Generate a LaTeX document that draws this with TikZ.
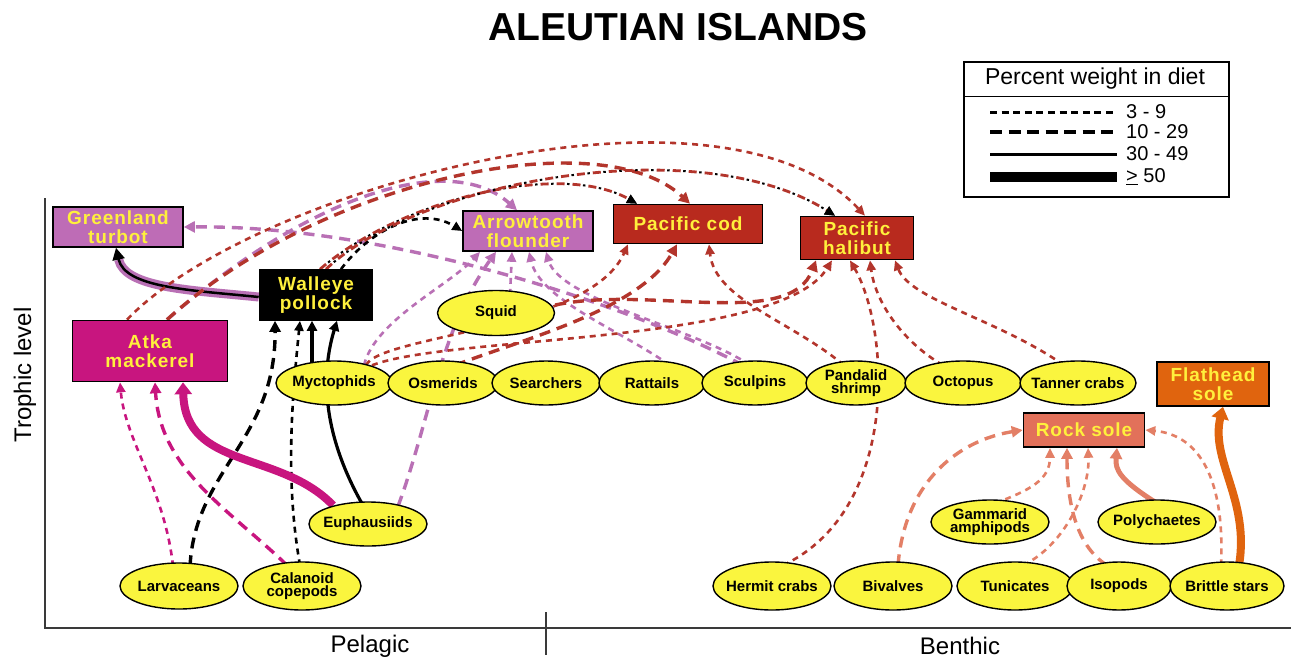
\documentclass[tikz,border=0pt]{standalone}
\usepackage{fontspec}
\setmainfont{Liberation Sans}
\newfontfamily\boxfont[LetterSpace=5]{Liberation Sans}
\usetikzlibrary{arrows.meta,shapes.geometric,backgrounds}
\definecolor{purp}{HTML}{BE6CB6}
\definecolor{purpl}{HTML}{B970B5}
\definecolor{codred}{HTML}{B82A1E}
\definecolor{lred}{HTML}{B3352C}
\definecolor{mag}{HTML}{C8157F}
\definecolor{flat}{HTML}{E0640E}
\definecolor{rock}{HTML}{E2715A}
\definecolor{rockl}{HTML}{E37F66}
\definecolor{ytext}{HTML}{FFF03C}
\definecolor{yfill}{HTML}{FAF53E}
\definecolor{axisgray}{HTML}{3A3A3A}
\begin{document}
\begin{tikzpicture}[x=1pt,y=-1pt,
  pred/.style={draw=black, line width=1.6pt, text=ytext, align=center, inner sep=0pt,
    font=\boxfont\fontsize{19}{19}\selectfont\bfseries},
  prey/.style={ellipse, draw=black, fill=yfill, line width=1.4pt, align=center, inner xsep=-14pt, inner ysep=-4pt,
    minimum height=44pt, font=\fontsize{15}{13.5}\selectfont\bfseries},
  s39/.style={line width=2.6pt, dash pattern=on 6pt off 5pt, -{Triangle[length=10pt,width=9pt]}},
  s1029/.style={line width=3.4pt, dash pattern=on 11pt off 7pt, -{Triangle[length=11pt,width=11pt]}},
  s3049/.style={line width=3.2pt, -{Triangle[length=10pt,width=10pt]}},
  s50/.style={line width=8pt, -{Triangle[length=12pt,width=17pt]}},
  mix/.style={draw=lred, line width=2.8pt, dash pattern=on 8pt off 8pt,
    postaction={draw=black, line width=2pt, dash pattern=on 2.5pt off 13.5pt, dash phase=-10.5pt},
    -{Triangle[length=10pt,width=9pt,color=black]}},
  axisline/.style={draw=axisgray, line width=2pt},
  legtext/.style={anchor=west, font=\fontsize{20}{20}\selectfont, inner sep=0pt}
]
\useasboundingbox (0,0) rectangle (1291,662);

% title
\node[font=\fontsize{39}{42}\selectfont\bfseries] (title) at (678,27) {ALEUTIAN ISLANDS};

% legend
\node[draw=black, line width=1.5pt, minimum width=265pt, minimum height=135pt, inner sep=0pt] (leg) at (1096.5,129.5) {};
\draw[line width=1.5pt] ([yshift=-35]leg.north west) -- ([yshift=-35]leg.north east);
\node[font=\fontsize{23}{23}\selectfont] (legh) at (1095,79) {Percent weight in diet};
\draw[line width=3pt, dash pattern=on 7pt off 4.6pt] (990,112) -- (1117,112);
\draw[line width=4pt, dash pattern=on 12pt off 6.5pt] (990,132) -- (1117,132);
\draw[line width=3pt] (990,154) -- (1117,154);
\draw[line width=10pt] (990,177) -- (1117,177);
\node[legtext] (l1) at (1126,112) {3 - 9};
\node[legtext] (l2) at (1126,132) {10 - 29};
\node[legtext] (l3) at (1126,154) {30 - 49};
\node[legtext] (l4) at (1126,177) {\underline{>} 50};

% axis labels
\node[font=\fontsize{24}{24}\selectfont] (pel) at (370,646) {Pelagic};
\node[font=\fontsize{24}{24}\selectfont] (ben) at (960,646) {Benthic};
\node[font=\fontsize{24}{24}\selectfont, rotate=90] (tl) at (25,375) {Trophic level};

% predators
\node[pred, fill=purp, minimum width=130pt, minimum height=40pt] (gt) at (118,227) {Greenland\\turbot};
\node[pred, fill=purp, minimum width=130pt, minimum height=40pt] (af) at (528,231) {Arrowtooth\\flounder};
\node[pred, fill=codred, minimum width=149pt, minimum height=39pt] (cod) at (688,224) {Pacific cod};
\node[pred, fill=codred, minimum width=113pt, minimum height=43pt] (hal) at (857,238) {Pacific\\halibut};
\node[pred, fill=black, minimum width=113pt, minimum height=50pt] (wp) at (316,295) {Walleye\\pollock};
\node[pred, fill=mag, minimum width=155pt, minimum height=61pt] (am) at (150,351) {Atka\\mackerel};
\node[pred, fill=flat, minimum width=112pt, minimum height=44pt] (fs) at (1213,384) {Flathead\\sole};
\node[pred, fill=rock, minimum width=121pt, minimum height=34pt] (rs) at (1084,430) {Rock sole};

% prey
\node[prey, minimum width=117pt, minimum height=45pt] (sq) at (496,313) {Squid};
\node[prey, minimum width=116pt] (my) at (334,383) {Myctophids};
\node[prey, minimum width=110pt] (os) at (443,383) {Osmerids};
\node[prey, minimum width=108pt] (se) at (546,383) {Searchers};
\node[prey, minimum width=106pt] (ra) at (652,383) {Rattails};
\node[prey, minimum width=106pt] (sc) at (755,383) {Sculpins};
\node[prey, minimum width=100pt] (pa) at (856,383) {Pandalid\\shrimp};
\node[prey, minimum width=116pt] (oc) at (963,383) {Octopus};
\node[prey, minimum width=116pt] (tc) at (1078,383) {Tanner crabs};
\node[prey, minimum width=118pt] (eu) at (368,524) {Euphausiids};
\node[prey, minimum width=118pt, minimum height=46pt] (lv) at (179,586) {Larvaceans};
\node[prey, minimum width=118pt, minimum height=48pt] (cc) at (302,586) {Calanoid\\copepods};
\node[prey, minimum width=118pt] (ga) at (990,522) {Gammarid\\amphipods};
\node[prey, minimum width=118pt] (po) at (1157,522) {Polychaetes};
\node[prey, minimum width=118pt, minimum height=48pt] (hc) at (772,586) {Hermit crabs};
\node[prey, minimum width=118pt, minimum height=48pt] (bi) at (893,586) {Bivalves};
\node[prey, minimum width=116pt, minimum height=48pt] (tu) at (1015,586) {Tunicates};
\node[prey, minimum width=104pt, minimum height=48pt] (iso) at (1119,586) {Isopods};
\node[prey, minimum width=114pt, minimum height=48pt] (bs) at (1227,586) {Brittle stars};

\begin{scope}[on background layer]
\fill[white] (0,0) rectangle (1291,662);
\draw[axisline] (45,198) -- (45,628) -- (1291,628);
\draw[axisline] (546,612) -- (546,655);

% Walleye pollock prey (black)
\draw[s1029] ([xshift=11,yshift=-4]lv.north) .. controls (195,470) and (276,440) .. ([xshift=-41]wp.south);
\draw[s39] ([xshift=-2,yshift=-4]cc.north) .. controls (285,480) and (292,400) .. ([xshift=-16]wp.south);
\draw[s3049] ([xshift=-22,yshift=-6]my.north) -- ([xshift=-4]wp.south);
\draw[s3049] ([xshift=-5,yshift=-4]eu.north) .. controls (320,430) and (322,370) .. ([xshift=21]wp.south);

% Greenland turbot
\draw[purpl, line width=9pt, shorten >=12pt] ([yshift=-2]wp.west) .. controls (190,290) and (125,288) .. ([xshift=-2]gt.south);
\draw[line width=2.5pt, -{Triangle[length=12pt,width=12pt]}] ([yshift=-2]wp.west) .. controls (190,290) and (125,288) .. ([xshift=-2]gt.south);
\draw[s1029, purpl] ([xshift=-12,yshift=-5]sc.north) .. controls (620,300) and (380,225) .. (gt.east);

% Arrowtooth flounder
\draw[s39, purpl] ([xshift=30,yshift=-5]my.north) .. controls (375,320) and (450,285) .. ([xshift=-48]af.south);
\draw[s1029, purpl] ([xshift=30,yshift=-5]eu.north) .. controls (430,420) and (440,330) .. ([xshift=-32]af.south);
\draw[s39, purpl] ([xshift=14,yshift=-5]sq.north) -- ([xshift=-16]af.south);
\draw[s39, purpl] ([xshift=18,yshift=-5]ra.north) .. controls (620,330) and (540,300) .. ([xshift=1]af.south);
\draw[s39, purpl] ([xshift=-5,yshift=-5]sc.north) .. controls (700,330) and (560,300) .. ([xshift=18]af.south);
\draw[s39] ([xshift=25]wp.north) .. controls (370,230) and (420,205) .. (af.west);
\draw[s1029, purpl] ([xshift=17]am.north) .. controls (310,195) and (450,150) .. ([xshift=-11]af.north);

% Pacific cod
\draw[s1029, lred] ([xshift=17]am.north) .. controls (320,180) and (600,120) .. ([xshift=2]cod.north);
\draw[mix] ([xshift=4]wp.north) .. controls (400,200) and (560,160) .. ([xshift=-51]cod.north);
\draw[s39, lred] ([xshift=32,yshift=-5]my.north) .. controls (380,335) and (590,330) .. ([xshift=-60]cod.south);
\draw[s1029, lred] ([xshift=12,yshift=-5]os.north) .. controls (520,340) and (640,310) .. ([xshift=-11]cod.south);
\draw[s39, lred] ([xshift=-12,yshift=-5]pa.north) .. controls (790,320) and (715,300) .. ([xshift=21]cod.south);

% Pacific halibut
\draw[s39, lred] ([xshift=-23]am.north) .. controls (250,190) and (720,60) .. ([xshift=8]hal.north);
\draw[mix] ([xshift=10]wp.north) .. controls (420,180) and (700,130) .. ([xshift=-22]hal.north);
\draw[s1029, lred] ([yshift=8]sq.east) .. controls (650,285) and (790,330) .. ([xshift=-41]hal.south);
\draw[s39, lred] ([xshift=38,yshift=-5]my.north) .. controls (450,335) and (780,345) .. ([xshift=-25]hal.south);
\draw[s39, lred] ([xshift=11,yshift=-4]hc.north) .. controls (900,510) and (890,330) .. ([xshift=-7]hal.south);
\draw[s39, lred] ([xshift=-20,yshift=-5]oc.north) .. controls (900,340) and (875,300) .. ([xshift=13]hal.south);
\draw[s39, lred] ([xshift=-14,yshift=-5]tc.north) .. controls (1000,320) and (910,300) .. ([xshift=38]hal.south);

% Atka mackerel
\draw[s39, mag] ([xshift=-6,yshift=-4]lv.north) .. controls (165,490) and (125,440) .. ([xshift=-30]am.south);
\draw[s1029, mag] ([xshift=-15,yshift=-4]cc.north) .. controls (230,510) and (160,470) .. ([xshift=5]am.south);
\draw[s50, mag] ([xshift=-35,yshift=-4]eu.north) .. controls (280,450) and (185,470) .. ([xshift=33]am.south);

% Rock sole
\draw[s1029, rockl] ([xshift=5,yshift=-4]bi.north) .. controls (905,480) and (960,440) .. (rs.west);
\draw[s39, rockl] ([xshift=5,yshift=-4]ga.north) .. controls (1030,490) and (1050,480) .. ([xshift=-34]rs.south);
\draw[s1029, rockl] ([xshift=-12,yshift=-4]iso.north) .. controls (1075,545) and (1067,500) .. ([xshift=-17]rs.south);
\draw[s39, rockl] ([xshift=8,yshift=-4]tu.north) .. controls (1065,545) and (1090,490) .. ([xshift=4]rs.south);
\draw[rockl, line width=5pt, -{Triangle[length=11pt,width=12pt]}] ([yshift=-4]po.north) .. controls (1120,480) and (1115,470) .. ([xshift=33]rs.south);
\draw[s39, rockl] ([xshift=-6,yshift=-4]bs.north) .. controls (1225,480) and (1200,435) .. (rs.east);

% Flathead sole
\draw[s50, flat] ([xshift=12,yshift=-4]bs.north) .. controls (1250,500) and (1210,460) .. ([xshift=10]fs.south);
\end{scope}
\end{tikzpicture}
\end{document}
